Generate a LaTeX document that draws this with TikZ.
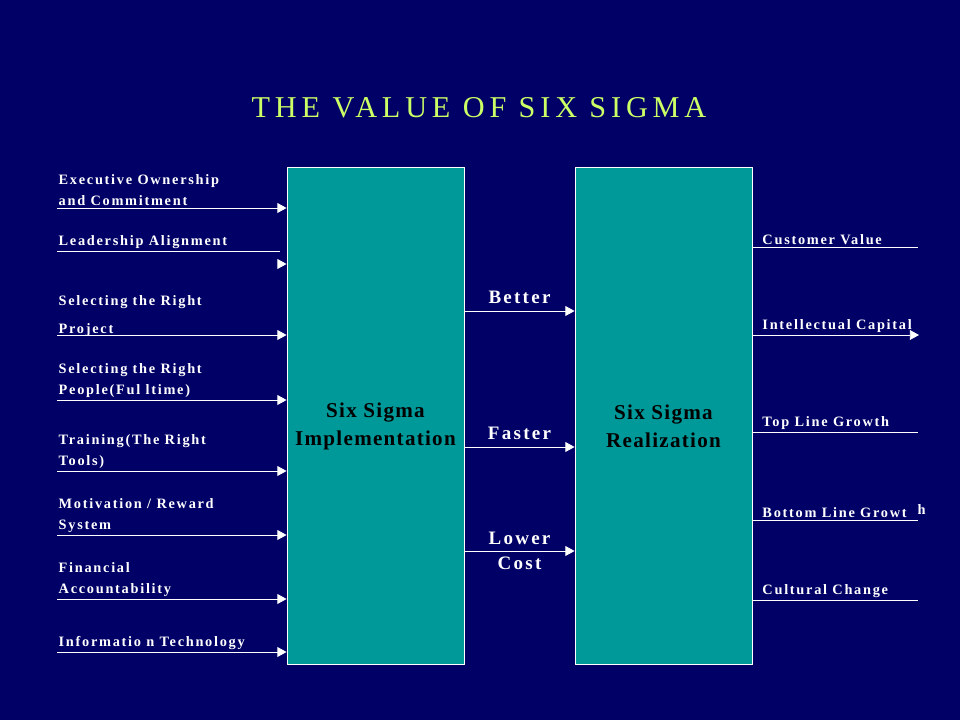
\documentclass[tikz,border=0pt]{standalone}
\usepackage{fontspec}
\setmainfont{Liberation Serif}
\usepackage{tikz}
\usetikzlibrary{positioning,arrows.meta}
\definecolor{navy}{RGB}{0,0,102}
\definecolor{tealbox}{RGB}{0,153,153}
\definecolor{ttlcol}{RGB}{204,255,102}
\newfontfamily\lblfont[LetterSpace=12]{Liberation Serif}
\newfontfamily\boxfont[LetterSpace=6]{Liberation Serif}
\newfontfamily\ttlfont[LetterSpace=16]{Liberation Serif}

\begin{document}
\begin{tikzpicture}[
  x=0.025cm, y=-0.025cm,
  %% box styles
  bigbox/.style = {rectangle, draw=white, fill=tealbox, line width=0.6pt,
                   minimum width=4.425cm, minimum height=12.425cm,
                   inner sep=0pt, align=center, text=black,
                   font=\boxfont\bfseries\fontsize{15}{20}\selectfont},
  %% text styles
  ttl/.style    = {text=ttlcol, font=\ttlfont\fontsize{21.5}{24}\selectfont},
  lbl/.style    = {anchor=south west, inner xsep=1pt, inner ysep=1.5pt,
                   align=left, text=white,
                   font=\lblfont\bfseries\fontsize{10.2}{15}\selectfont},
  rlbl/.style   = {lbl, xshift=0.22cm},
  mid/.style    = {text=white, inner sep=2pt,
                   font=\lblfont\bfseries\fontsize{13.5}{16}\selectfont},
  %% lines
  ln/.style     = {draw=white, line width=0.6pt},
  arr/.style    = {ln, -{Triangle[length=6.5pt, width=7pt]}}
]

%% ---- Background ----
\fill[navy] (0,0) rectangle (960,720);

%% ---- Title ----
\node[ttl] (TTL) at (479,108) {THE VALUE OF SIX SIGMA};

%% ---- Main boxes ----
\node[bigbox] (IMP) at (375.5,415.5) {\\[6pt]Six Sigma\\Implementation};
\node[bigbox] (REA) at (663.5,415.5) {\\[6pt]Six Sigma\\Realization};

%% ---- Inputs (left) ----
\node[lbl] (L1) at (57,208) {Executive Ownership\\and Commitment};
\node[lbl] (L2) at (57,251) {Leadership Alignment};
\node[lbl, yshift=-3pt] (L3) at (57,335) {Selecting the Right\\[5pt]Project};
\node[lbl] (L4) at (57,400) {Selecting the Right\\People(Ful ltime)};
\node[lbl] (L5) at (57,471) {Training(The Right\\Tools)};
\node[lbl] (L6) at (57,535) {Motivation / Reward\\System};
\node[lbl] (L7) at (57,599) {Financial\\Accountability};
\node[lbl] (L8) at (57,652) {Informatio n Technology};
\coordinate (A2) at (280,264);
\coordinate (A3) at (57,335);

\draw[arr] (L1.south west) -- (L1.south west -| IMP.west);
\draw[ln]  (L2.south west) -- ++(223,0);
\draw[arr] (A2) -- (A2 -| IMP.west);
\draw[arr] (A3) -- (A3 -| IMP.west);
\draw[arr] (L4.south west) -- (L4.south west -| IMP.west);
\draw[arr] (L5.south west) -- (L5.south west -| IMP.west);
\draw[arr] (L6.south west) -- (L6.south west -| IMP.west);
\draw[arr] (L7.south west) -- (L7.south west -| IMP.west);
\draw[arr] (L8.south west) -- (L8.south west -| IMP.west);

%% ---- Between the boxes ----
\coordinate (M1) at (0,311);
\coordinate (M2) at (0,447);
\coordinate (M3) at (0,551);
\draw[arr] (IMP.east |- M1) -- (REA.west |- M1)
  node[mid, midway, above=3pt] (BET) {Better};
\draw[arr] (IMP.east |- M2) -- (REA.west |- M2)
  node[mid, midway, above=3pt] (FAS) {Faster};
\draw[arr] (IMP.east |- M3) -- (REA.west |- M3)
  node[mid, midway, above=2pt] (LOW) {Lower}
  node[mid, midway, below=2pt] (CST) {Cost};

%% ---- Outputs (right) ----
\node[rlbl] (R1) at (752,247) {Customer Value};
\node[rlbl] (R2) at (752,335) {Intellectual Capital};
\node[rlbl] (R3) at (752,432) {Top Line Growth};
\node[rlbl] (R4) at (752,520) {Bottom Line Growt};
\node[lbl]  (R4h) at (916,517) {h};
\node[rlbl] (R5) at (752,600) {Cultural Change};
\coordinate (E1) at (918,247);
\coordinate (E2) at (919,335);
\coordinate (E3) at (918,432);
\coordinate (E4) at (918,520);
\coordinate (E5) at (918,600);

\draw[ln]  (REA.east |- E1) -- (E1);
\draw[arr] (REA.east |- E2) -- (E2);
\draw[ln]  (REA.east |- E3) -- (E3);
\draw[ln]  (REA.east |- E4) -- (E4);
\draw[ln]  (REA.east |- E5) -- (E5);

\end{tikzpicture}
\end{document}
